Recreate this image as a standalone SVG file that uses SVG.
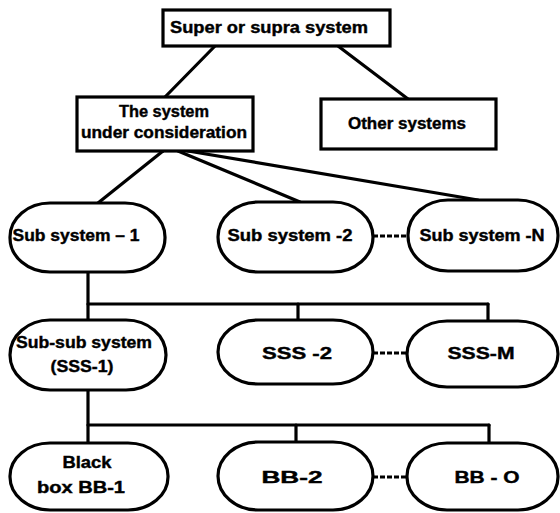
<svg xmlns="http://www.w3.org/2000/svg" width="560" height="513" viewBox="0 0 560 513">
<style>
.box{fill:#fff;stroke:#000;stroke-width:3.2}
.pill{fill:#fff;stroke:#000;stroke-width:3.2}
.ln{fill:none;stroke:#000;stroke-width:3.2;stroke-linecap:round}
.dash{fill:none;stroke:#000;stroke-width:2.8;stroke-dasharray:5 2}
text{font-family:"Liberation Sans",Arial,sans-serif;font-weight:bold;font-size:16px;fill:#000;stroke:#000;stroke-width:0.4;text-anchor:middle}
</style>
<rect width="560" height="513" fill="#fff"/>
<g id="connectors">
<line class="ln" x1="215" y1="46" x2="165" y2="97"/>
<line class="ln" x1="338" y1="46" x2="408" y2="99"/>
<line class="ln" x1="163" y1="151" x2="98" y2="203"/>
<line class="ln" x1="178" y1="151" x2="300" y2="202"/>
<line class="ln" x1="188" y1="151" x2="478" y2="200"/>
<line class="ln" x1="88" y1="272" x2="88" y2="320"/>
<line class="ln" x1="88" y1="304" x2="488" y2="304"/>
<line class="ln" x1="298" y1="304" x2="298" y2="320"/>
<line class="ln" x1="488" y1="304" x2="488" y2="321"/>
<line class="ln" x1="88" y1="390" x2="88" y2="443"/>
<line class="ln" x1="88" y1="425" x2="489" y2="425"/>
<line class="ln" x1="296" y1="425" x2="296" y2="442"/>
<line class="ln" x1="489" y1="425" x2="489" y2="443"/>
<line class="dash" x1="373" y1="236" x2="408" y2="236"/>
<line class="dash" x1="373" y1="353" x2="407" y2="353"/>
<line class="dash" x1="373" y1="477" x2="407" y2="477"/>
</g>
<g id="super">
<rect class="box" x="163" y="10" width="227" height="36"/>
<text x="269" y="33" textLength="198" lengthAdjust="spacingAndGlyphs">Super or supra system</text>
</g>
<g id="system">
<rect class="box" x="77" y="97" width="176" height="54"/>
<text x="164" y="117" textLength="90" lengthAdjust="spacingAndGlyphs">The system</text>
<text x="164" y="138" textLength="166" lengthAdjust="spacingAndGlyphs">under consideration</text>
</g>
<g id="other">
<rect class="box" x="321" y="99" width="175" height="50"/>
<text x="407" y="129" textLength="118" lengthAdjust="spacingAndGlyphs">Other systems</text>
</g>
<g id="ss1">
<rect class="pill" x="10" y="203" width="155" height="69" rx="40" ry="34"/>
<text x="76" y="241" textLength="127" lengthAdjust="spacingAndGlyphs">Sub system – 1</text>
</g>
<g id="ss2">
<rect class="pill" x="218" y="202" width="155" height="70" rx="40" ry="35"/>
<text x="290" y="241" textLength="125" lengthAdjust="spacingAndGlyphs">Sub  system -2</text>
</g>
<g id="ssn">
<rect class="pill" x="408" y="200" width="150" height="71" rx="40" ry="35"/>
<text x="482" y="241" textLength="125" lengthAdjust="spacingAndGlyphs">Sub system -N</text>
</g>
<g id="sss1">
<rect class="pill" x="10" y="320" width="156" height="70" rx="40" ry="35"/>
<text x="84" y="348" textLength="136" lengthAdjust="spacingAndGlyphs">Sub-sub system</text>
<text x="82" y="372" textLength="63" lengthAdjust="spacingAndGlyphs">(SSS-1)</text>
</g>
<g id="sss2">
<rect class="pill" x="218" y="320" width="155" height="64" rx="40" ry="32"/>
<text x="297" y="359" textLength="70" lengthAdjust="spacingAndGlyphs">SSS -2</text>
</g>
<g id="sssm">
<rect class="pill" x="407" y="321" width="151" height="66" rx="40" ry="33"/>
<text x="481" y="359" textLength="67" lengthAdjust="spacingAndGlyphs">SSS-M</text>
</g>
<g id="bb1">
<rect class="pill" x="10" y="443" width="158" height="67" rx="40" ry="33"/>
<text x="87" y="468" textLength="49" lengthAdjust="spacingAndGlyphs">Black</text>
<text x="81" y="493" textLength="88" lengthAdjust="spacingAndGlyphs">box BB-1</text>
</g>
<g id="bb2">
<rect class="pill" x="218" y="442" width="155" height="68" rx="40" ry="34"/>
<text x="292" y="483" textLength="61" lengthAdjust="spacingAndGlyphs">BB-2</text>
</g>
<g id="bbo">
<rect class="pill" x="407" y="443" width="151" height="67" rx="40" ry="33"/>
<text x="487" y="483" textLength="65" lengthAdjust="spacingAndGlyphs">BB - O</text>
</g>
</svg>
